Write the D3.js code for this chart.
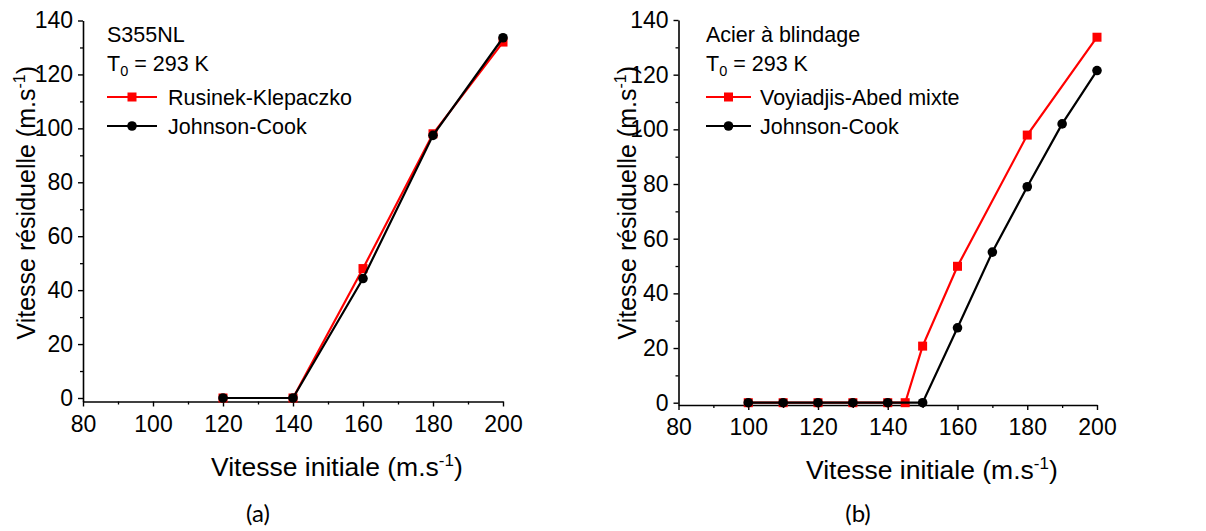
<!DOCTYPE html>
<html><head><meta charset="utf-8">
<script src="https://cdn.jsdelivr.net/npm/d3@7"></script>
<style>
body{margin:0;background:#fff;}
svg text{font-family:"Liberation Sans",Arial,sans-serif;fill:#000;}
</style></head>
<body><svg id="c" width="1206" height="531"></svg>
<script>
// ---- data ----
const xTicks = [80,100,120,140,160,180,200];
const yTicks = [0,20,40,60,80,100,120,140];

const aRedX = [120,140,160,180,200];
const aRedY = [0,0,48,98,132];
const aBlackX = [120,140,160,180,200];
const aBlackY = [0,0,44.3,97.4,133.6];

const bRedX = [100,110,120,130,140,145,150,160,180,200];
const bRedY = [0,0,0,0,0,0,20.7,49.9,97.9,133.7];
const bBlackX = [100,110,120,130,140,150,160,170,180,190,200];
const bBlackY = [0,0,0,0,0,0,27.4,55.1,79,102,121.5];

const panels = [
  {id:"a", caption:"(a)", title:"S355NL", redName:"Rusinek-Klepaczko",
   redX:aRedX, redY:aRedY, blackX:aBlackX, blackY:aBlackY,
   x0:83, x1:503, yTop:20.5, yZero:398, yBot:401.5,
   ylabX:35, ylabTop:66, xlabX:211, xlabY:476, capX:258, capY:522,
   legX:107, legLineEnd:157, legTextX:168},
  {id:"b", caption:"(b)", title:"Acier à blindage", redName:"Voyiadjis-Abed mixte",
   redX:bRedX, redY:bRedY, blackX:bBlackX, blackY:bBlackY,
   x0:678.5, x1:1097, yTop:20, yZero:402.7, yBot:405,
   ylabX:636, ylabTop:66, xlabX:806, xlabY:479, capX:858, capY:522,
   legX:706, legLineEnd:751, legTextX:760}
];

const svg = d3.select("#c");

panels.forEach(p => {
  const perUnit = (p.yZero - p.yTop)/140;
  const yMin = -(p.yBot - p.yZero)/perUnit;
  const x = d3.scaleLinear().domain([80,200]).range([p.x0,p.x1]);
  const y = d3.scaleLinear().domain([yMin,140]).range([p.yBot,p.yTop]);
  const g = svg.append("g");

  // minor ticks
  const minorX = d3.range(90,200,20);
  const minorY = d3.range(10,140,20);
  g.append("g").attr("transform",`translate(0,${p.yBot})`)
    .call(d3.axisBottom(x).tickValues(minorX).tickSize(3).tickFormat(""))
    .call(s=>s.select(".domain").remove())
    .selectAll("line").attr("stroke","#000").attr("stroke-width",1.3);
  g.append("g").attr("transform",`translate(${p.x0},0)`)
    .call(d3.axisLeft(y).tickValues(minorY).tickSize(3).tickFormat(""))
    .call(s=>s.select(".domain").remove())
    .selectAll("line").attr("stroke","#000").attr("stroke-width",1.3);

  // major axes
  const xa = g.append("g").attr("transform",`translate(0,${p.yBot})`)
    .call(d3.axisBottom(x).tickValues(xTicks).tickSize(5).tickSizeOuter(0).tickPadding(9).tickFormat(d3.format("d")));
  const ya = g.append("g").attr("transform",`translate(${p.x0},0)`)
    .call(d3.axisLeft(y).tickValues(yTicks).tickSize(5).tickSizeOuter(0).tickPadding(5).tickFormat(d3.format("d")));
  [xa,ya].forEach(a=>{
    a.select(".domain").attr("stroke","#000").attr("stroke-width",1.6);
    a.selectAll(".tick line").attr("stroke","#000").attr("stroke-width",1.4);
    a.selectAll(".tick text").attr("font-size",23).attr("font-family","Liberation Sans, Arial, sans-serif").attr("fill","#000");
  });

  const line = d3.line().x(d=>x(d[0])).y(d=>y(d[1]));
  const redPts = p.redX.map((v,i)=>[v,p.redY[i]]);
  const blackPts = p.blackX.map((v,i)=>[v,p.blackY[i]]);

  g.append("path").datum(redPts).attr("d",line).attr("fill","none").attr("stroke","#ff0000").attr("stroke-width",2.2);
  g.selectAll(".sq").data(redPts).join("rect")
    .attr("x",d=>x(d[0])-4.5).attr("y",d=>y(d[1])-4.5).attr("width",9).attr("height",9)
    .attr("fill","#ff0000");
  g.append("path").datum(blackPts).attr("d",line).attr("fill","none").attr("stroke","#000").attr("stroke-width",2.2);
  g.selectAll(".ci").data(blackPts).join("circle")
    .attr("cx",d=>x(d[0])).attr("cy",d=>y(d[1])).attr("r",4.8).attr("fill","#000");

  // legend
  const fs = 21.5;
  g.append("text").attr("x",p.legX).attr("y",42).attr("font-size",fs).text(p.title);
  const t = g.append("text").attr("x",p.legX).attr("y",71).attr("font-size",fs);
  t.append("tspan").text("T");
  t.append("tspan").attr("font-size",14.5).attr("dy",5).text("0");
  t.append("tspan").attr("dy",-5).text(" = 293 K");

  const mid = (p.legX+p.legLineEnd)/2;
  g.append("line").attr("x1",p.legX).attr("x2",p.legLineEnd).attr("y1",97).attr("y2",97).attr("stroke","#ff0000").attr("stroke-width",2.2);
  g.append("rect").attr("x",mid-4.5).attr("y",97-4.5).attr("width",9).attr("height",9).attr("fill","#ff0000");
  g.append("text").attr("x",p.legTextX).attr("y",104.5).attr("font-size",fs).text(p.redName);
  g.append("line").attr("x1",p.legX).attr("x2",p.legLineEnd).attr("y1",126).attr("y2",126).attr("stroke","#000").attr("stroke-width",2.2);
  g.append("circle").attr("cx",mid).attr("cy",126).attr("r",4.8).attr("fill","#000");
  g.append("text").attr("x",p.legTextX).attr("y",133.5).attr("font-size",fs).text("Johnson-Cook");

  // axis titles
  const yl = g.append("text").attr("transform",`translate(${p.ylabX},${p.ylabTop}) rotate(-90)`)
    .attr("text-anchor","end").attr("font-size",25);
  yl.append("tspan").text("Vitesse résiduelle (m.s");
  yl.append("tspan").attr("font-size",16).attr("dy",-10).text("-1");
  yl.append("tspan").attr("dy",10).text(")");

  const xl = g.append("text").attr("x",p.xlabX).attr("y",p.xlabY).attr("font-size",26.5);
  xl.append("tspan").text("Vitesse initiale (m.s");
  xl.append("tspan").attr("font-size",17).attr("dy",-10).text("-1");
  xl.append("tspan").attr("dy",10).text(")");

  g.append("text").attr("x",p.capX).attr("y",p.capY).attr("text-anchor","middle")
    .attr("font-size",24).style("font-family","Lato, 'Open Sans', sans-serif").text(p.caption);
});
</script>
</body></html>
